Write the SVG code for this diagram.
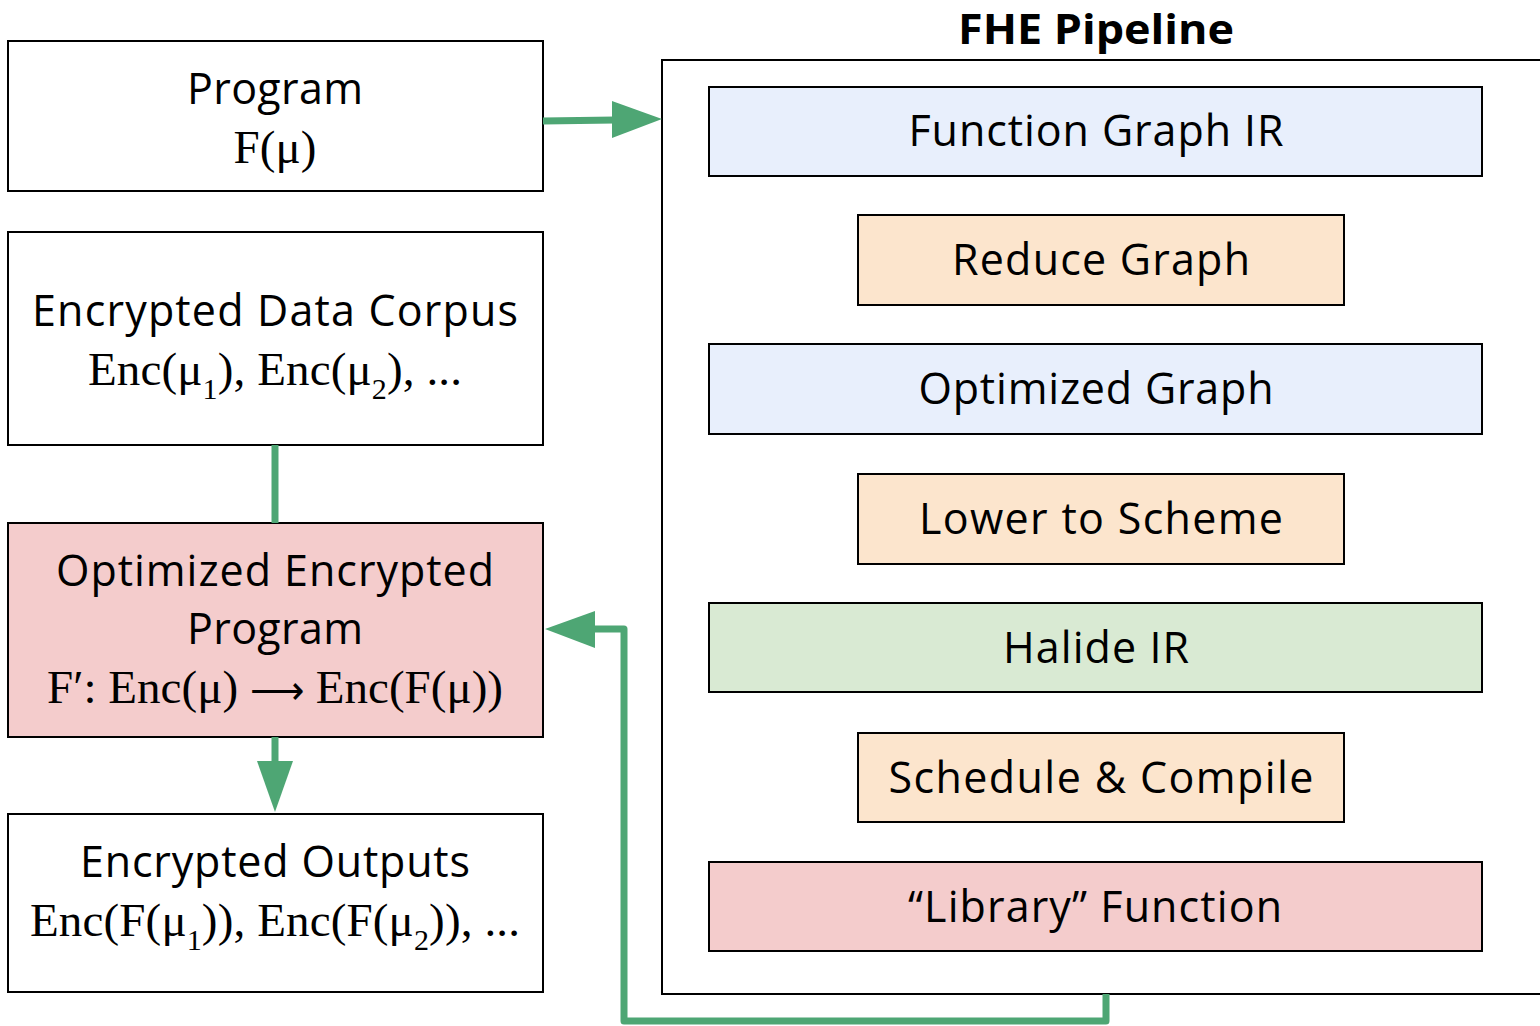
<svg xmlns="http://www.w3.org/2000/svg" width="1540" height="1026" viewBox="0 0 1540 1026">
<style>
.box{stroke:#000;stroke-width:2}
.sans{font-family:"Open Sans",Lato,"Liberation Sans",sans-serif;font-size:43px;fill:#000;text-anchor:middle}
.serif{font-family:"Liberation Serif","Times New Roman",serif;font-size:47px;fill:#000;text-anchor:middle}
.conn{stroke:#4ea674;stroke-width:7;fill:none;stroke-linejoin:round}
.head{fill:#4ea674}
.blue{fill:#e8effc}.orange{fill:#fce5cd}.green{fill:#d9ead3}.red{fill:#f4cccc}.white{fill:#fff}
</style>
<rect width="1540" height="1026" fill="#fff"/>
<g id="pipeline">
<rect x="662" y="60" width="890" height="934" class="box white"/>
<text x="1096" y="44" class="sans" style="font-weight:bold;font-size:41px" textLength="276" lengthAdjust="spacingAndGlyphs">FHE Pipeline</text>
</g>
<g id="program">
<rect x="8" y="41" width="535" height="150" class="box white"/>
<text x="275" y="104" class="sans" textLength="176">Program</text>
<text x="275" y="163" class="serif" textLength="83">F(μ)</text>
</g>
<g id="corpus">
<rect x="8" y="232" width="535" height="213" class="box white"/>
<text x="275" y="326" class="sans" textLength="486">Encrypted Data Corpus</text>
<text x="275" y="385" class="serif" textLength="374">Enc(μ<tspan font-size="30" dy="14">1</tspan><tspan dy="-14">), Enc(μ</tspan><tspan font-size="30" dy="14">2</tspan><tspan dy="-14">), ...</tspan></text>
</g>
<g id="optimized-program">
<rect x="8" y="523" width="535" height="214" class="box red"/>
<text x="275" y="586" class="sans" textLength="438">Optimized Encrypted</text>
<text x="275" y="644" class="sans" textLength="176">Program</text>
<text x="275" y="703" class="serif" textLength="456">F′: Enc(μ) <tspan font-size="38">⟶</tspan> Enc(F(μ))</text>
</g>
<g id="outputs">
<rect x="8" y="814" width="535" height="178" class="box white"/>
<text x="275" y="877" class="sans" textLength="390">Encrypted Outputs</text>
<text x="275" y="936" class="serif" textLength="490">Enc(F(μ<tspan font-size="30" dy="14">1</tspan><tspan dy="-14">)), Enc(F(μ</tspan><tspan font-size="30" dy="14">2</tspan><tspan dy="-14">)), ...</tspan></text>
</g>
<g id="function-graph-ir">
<rect x="709" y="87" width="773" height="89" class="box blue"/>
<text x="1096" y="146" class="sans" textLength="375">Function Graph IR</text>
</g>
<g id="reduce-graph">
<rect x="858" y="215" width="486" height="90" class="box orange"/>
<text x="1101" y="275" class="sans" textLength="298">Reduce Graph</text>
</g>
<g id="optimized-graph">
<rect x="709" y="344" width="773" height="90" class="box blue"/>
<text x="1096" y="404" class="sans" textLength="355">Optimized Graph</text>
</g>
<g id="lower-to-scheme">
<rect x="858" y="474" width="486" height="90" class="box orange"/>
<text x="1101" y="534" class="sans" textLength="364">Lower to Scheme</text>
</g>
<g id="halide-ir">
<rect x="709" y="603" width="773" height="89" class="box green"/>
<text x="1096" y="663" class="sans" textLength="186">Halide IR</text>
</g>
<g id="schedule-compile">
<rect x="858" y="733" width="486" height="89" class="box orange"/>
<text x="1101" y="793" class="sans" textLength="425">Schedule &amp; Compile</text>
</g>
<g id="library-function">
<rect x="709" y="862" width="773" height="89" class="box red"/>
<text x="1095" y="922" class="sans" textLength="374">“Library” Function</text>
</g>
<g id="connectors">
<path class="conn" d="M543,121 L615,120"/>
<path class="head" d="M612,101 L662,119 L612,138 Z"/>
<path class="conn" d="M275,445 L275,523"/>
<path class="conn" d="M275,737 L275,764"/>
<path class="head" d="M257,761 L293,761 L275,812 Z"/>
<path class="conn" d="M1106,994 L1106,1021 L624,1021 L624,629 L592,629"/>
<path class="head" d="M595,611 L545,629 L595,648 Z"/>
</g>
</svg>
